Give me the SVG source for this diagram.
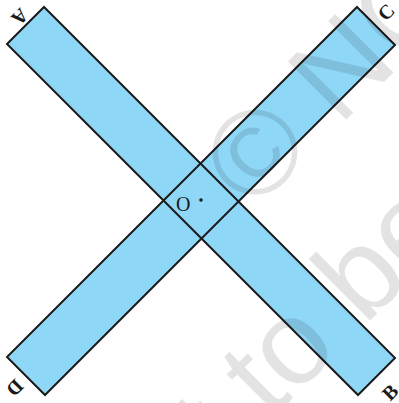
<svg xmlns="http://www.w3.org/2000/svg" width="399" height="403" viewBox="0 0 399 403">
  <style>
    .strip { fill: #8fd7f7; stroke: none; }
    .edge { fill: none; stroke: #1a1a1a; stroke-width: 2; stroke-linejoin: miter; }
    .lbl { font-family: "Liberation Serif", "Times New Roman", serif; font-size: 20px; fill: #1a1a1a; }
    .corner { font-weight: bold; text-anchor: middle; dominant-baseline: central; }
    .wm { font-family: "Liberation Sans", Arial, sans-serif; font-size: 120px; fill: #000; fill-opacity: 0.11; }
  </style>
  <rect width="399" height="403" fill="#ffffff"/>
  <g id="strips">
    <polygon id="strip-AB-fill" class="strip" points="7,44 44,7 395,358 358,395"/>
    <polygon id="strip-CD-fill" class="strip" points="357,7 395,45 45,395 7,357"/>
    <polygon id="strip-AB" class="edge" points="7,44 44,7 395,358 358,395"/>
    <polygon id="strip-CD" class="edge" points="357,7 395,45 45,395 7,357"/>
  </g>
  <g id="point-O">
    <text class="lbl" x="176" y="210.5">O</text>
    <circle cx="201" cy="200" r="1.8" fill="#1a1a1a"/>
  </g>
  <g id="labels">
    <text class="lbl corner" x="20" y="17" transform="rotate(135 20 17)">A</text>
    <text class="lbl corner" x="386" y="12" transform="rotate(-45 386 12)">C</text>
    <text class="lbl corner" x="15" y="388" transform="rotate(135 15 388)">D</text>
    <text class="lbl corner" x="390" y="392" transform="rotate(-45 390 392)">B</text>
  </g>
  <g id="watermark" transform="translate(258,147) rotate(-45)">
    <text class="wm" x="-50" y="43">© NCERT</text>
    <text class="wm" x="-385" y="202">not to be republished</text>
  </g>
</svg>
